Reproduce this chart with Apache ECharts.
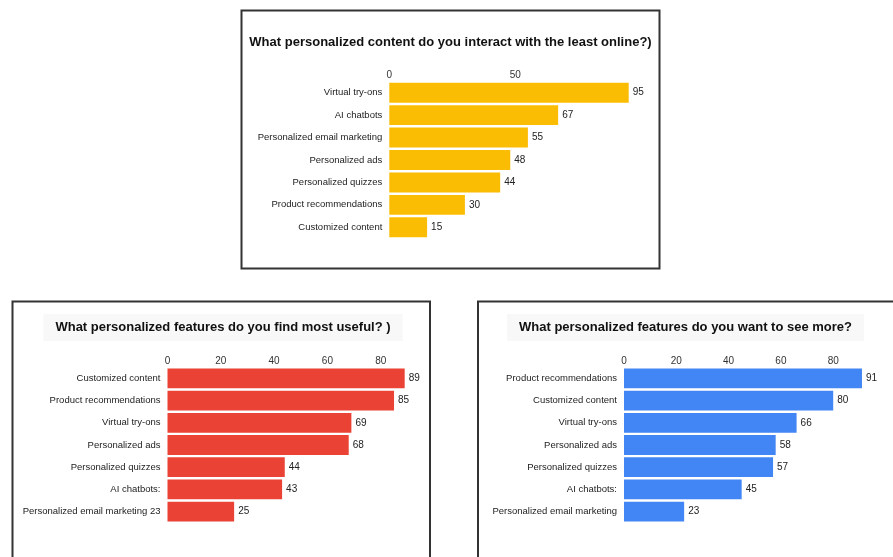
<!DOCTYPE html>
<html>
<head>
<meta charset="utf-8">
<script src="https://cdn.jsdelivr.net/npm/echarts@6/dist/echarts.min.js"></script>
<style>
  html, body { margin: 0; padding: 0; background: #ffffff; }
  #chart { width: 893px; height: 557px; }
</style>
</head>
<body>
<div id="chart"></div>
<script>
// Survey question 1: content interacted with the least
const leastTitle = 'What personalized content do you interact with the least online?)';
const leastCategories = ['Virtual try-ons', 'AI chatbots', 'Personalized email marketing', 'Personalized ads', 'Personalized quizzes', 'Product recommendations', 'Customized content'];
const leastValues = [95, 67, 55, 48, 44, 30, 15];

// Survey question 2: most useful features
const usefulTitle = 'What personalized features do you find most useful? )';
const usefulCategories = ['Customized content', 'Product recommendations', 'Virtual try-ons', 'Personalized ads', 'Personalized quizzes', 'AI chatbots:', 'Personalized email marketing 23'];
const usefulValues = [89, 85, 69, 68, 44, 43, 25];

// Survey question 3: features people want more of
const moreTitle = 'What personalized features do you want to see more?';
const moreCategories = ['Product recommendations', 'Customized content', 'Virtual try-ons', 'Personalized ads', 'Personalized quizzes', 'AI chatbots:', 'Personalized email marketing'];
const moreValues = [91, 80, 66, 58, 57, 45, 23];

const FONT = '"Liberation Sans", Arial, sans-serif';
const TEXT = '#222222';
const TITLE_PAD = [7, 12, 7, 12];

const panels = [
  { title: leastTitle, cats: leastCategories, vals: leastValues, color: '#FBBC04', interval: 50,
    grid: { left: 389.3, top: 81.5, width: 252, height: 157 },
    titleCenter: 450.5, titleTop: 28.5, titleBg: 'transparent' },
  { title: usefulTitle, cats: usefulCategories, vals: usefulValues, color: '#EA4335', interval: 20,
    grid: { left: 167.5, top: 367.3, width: 266.5, height: 155.4 },
    titleCenter: 223, titleTop: 314, titleBg: '#f8f8f8' },
  { title: moreTitle, cats: moreCategories, vals: moreValues, color: '#4285F4', interval: 20,
    grid: { left: 624, top: 367.3, width: 261.5, height: 155.4 },
    titleCenter: 685.5, titleTop: 314, titleBg: '#f8f8f8' }
];

const option = {
  animation: false,
  backgroundColor: '#ffffff',
  textStyle: { fontFamily: FONT },
  graphic: [
    { type: 'rect', shape: { x: 241.5, y: 10.5, width: 418, height: 258 },
      style: { fill: 'none', stroke: '#333333', lineWidth: 2 }, z: 100 },
    { type: 'rect', shape: { x: 12.5, y: 301.5, width: 417.5, height: 270 },
      style: { fill: 'none', stroke: '#333333', lineWidth: 2 }, z: 100 },
    { type: 'rect', shape: { x: 478, y: 301.5, width: 420, height: 270 },
      style: { fill: 'none', stroke: '#333333', lineWidth: 2 }, z: 100 }
  ],
  // the title box is anchored by its left edge, so shift by the left padding
  title: panels.map(p => ({
    text: p.title,
    left: p.titleCenter - TITLE_PAD[3],
    top: p.titleTop,
    textAlign: 'center',
    backgroundColor: p.titleBg,
    padding: TITLE_PAD,
    textStyle: { fontFamily: FONT, fontSize: 13, fontWeight: 'bold', color: '#111111' }
  })),
  grid: panels.map(p => Object.assign({ containLabel: false }, p.grid)),
  xAxis: panels.map((p, i) => ({
    type: 'value',
    gridIndex: i,
    position: 'top',
    min: 0,
    max: 100,
    interval: p.interval,
    splitLine: { show: false },
    axisLine: { show: false },
    axisTick: { show: false },
    axisLabel: { margin: 1, fontSize: 10, color: '#333333', fontFamily: FONT, showMaxLabel: false }
  })),
  yAxis: panels.map((p, i) => ({
    type: 'category',
    gridIndex: i,
    inverse: true,
    data: p.cats,
    axisLine: { show: false },
    axisTick: { show: false },
    axisLabel: { margin: 7, fontSize: 9.5, color: TEXT, fontFamily: FONT }
  })),
  series: panels.map((p, i) => ({
    type: 'bar',
    xAxisIndex: i,
    yAxisIndex: i,
    data: p.vals,
    barCategoryGap: '11%',
    itemStyle: { color: p.color },
    label: { show: true, position: 'right', distance: 4, fontSize: 10, color: TEXT, fontFamily: FONT }
  }))
};

const chart = echarts.init(document.getElementById('chart'), null, { renderer: 'canvas' });
chart.setOption(option);
</script>
</body>
</html>
